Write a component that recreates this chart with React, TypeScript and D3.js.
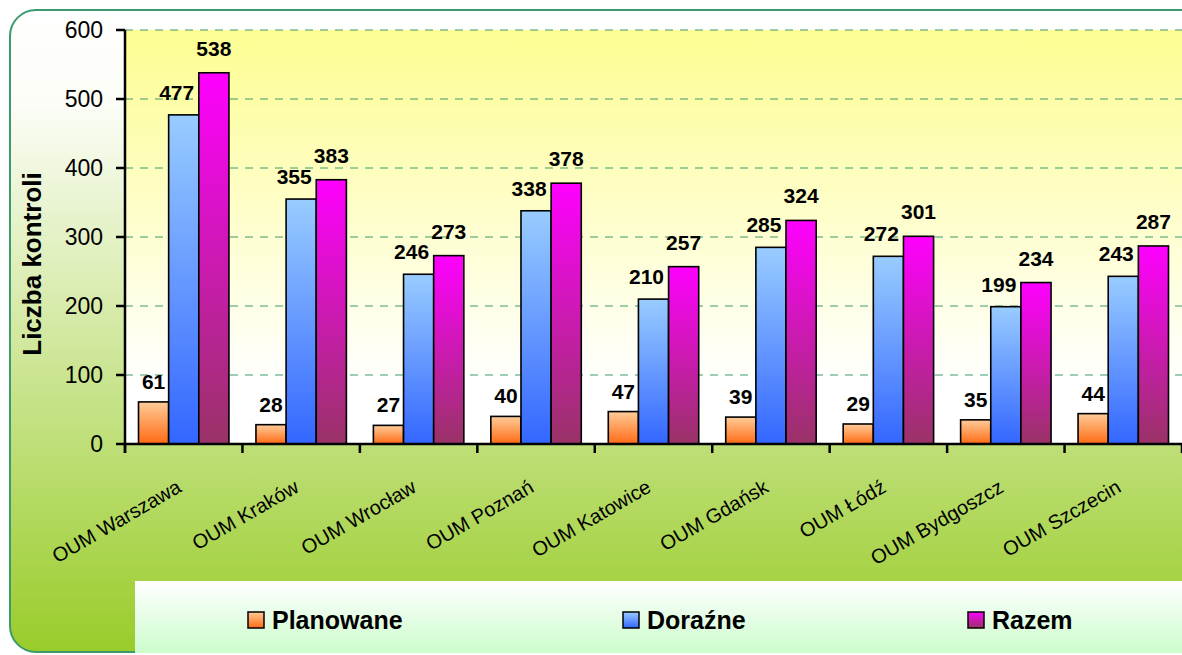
import {useEffect, useRef} from 'react';
import * as d3 from 'd3';

const categories = ['OUM Warszawa', 'OUM Kraków', 'OUM Wrocław', 'OUM Poznań', 'OUM Katowice', 'OUM Gdańsk', 'OUM Łódź', 'OUM Bydgoszcz', 'OUM Szczecin'];
const seriesNames = ['Planowane', 'Doraźne', 'Razem'];
const planowane = [61, 28, 27, 40, 47, 39, 29, 35, 44];
const dorazne = [477, 355, 246, 338, 210, 285, 272, 199, 243];
const razem = [538, 383, 273, 378, 257, 324, 301, 234, 287];
const yTicks = [0, 100, 200, 300, 400, 500, 600];
const yTitle = 'Liczba kontroli';

const W = 1182;
const H = 655;
const FONT = '"Liberation Sans", Arial, sans-serif';

export default function App() {
    const svgRef = useRef<SVGSVGElement>(null);

    useEffect(() => {
        const svg = d3.select(svgRef.current);
        svg.selectAll('*').remove();

        const plot = {left: 125, right: 1182, top: 30, bottom: 444};
        const values = [planowane, dorazne, razem];
        const grads = [
            ['#ffcc99', '#ff6a14'],
            ['#99ccff', '#3366ff'],
            ['#ff00ff', '#993366'],
        ];

        const defs = svg.append('defs');
        const vgrad = (id, stops) => {
            const g = defs.append('linearGradient').attr('id', id)
                .attr('x1', 0).attr('y1', 0).attr('x2', 0).attr('y2', 1);
            stops.forEach(([o, c]) => g.append('stop').attr('offset', o).attr('stop-color', c));
        };
        vgrad('outerBg', [[0, '#ffffff'], [0.15, '#fbfdf6'], [1, '#99cc2a']]);
        vgrad('plotBg', [[0, '#fdfd92'], [0.85, '#ffffff'], [1, '#ffffff']]);
        vgrad('legendBg', [[0, '#ffffff'], [1, '#ccfccc']]);
        grads.forEach((g, i) => vgrad('bar' + i, [[0, g[0]], [1, g[1]]]));

        // Outer frame
        svg.append('rect')
            .attr('x', 10).attr('y', 10)
            .attr('width', 1200).attr('height', 642)
            .attr('rx', 26)
            .attr('fill', 'url(#outerBg)')
            .attr('stroke', '#3d9a6c')
            .attr('stroke-width', 2);

        // Plot background
        svg.append('rect')
            .attr('x', plot.left).attr('y', plot.top)
            .attr('width', plot.right - plot.left).attr('height', plot.bottom - plot.top)
            .attr('fill', 'url(#plotBg)');

        const x0 = d3.scaleBand()
            .domain(categories)
            .range([plot.left, plot.right])
            .paddingInner(0.23)
            .paddingOuter(0.115);
        const x1 = d3.scaleBand()
            .domain(seriesNames)
            .range([0, x0.bandwidth()]);
        const y = d3.scaleLinear()
            .domain([0, 600])
            .range([plot.bottom, plot.top]);

        // Gridlines
        svg.append('g').selectAll('line')
            .data(yTicks.filter(t => t > 0))
            .join('line')
            .attr('x1', plot.left).attr('x2', plot.right)
            .attr('y1', d => y(d)).attr('y2', d => y(d))
            .attr('stroke', '#3d9a6c')
            .attr('stroke-width', 1)
            .attr('stroke-dasharray', '8,7');

        // Bars
        seriesNames.forEach((s, si) => {
            svg.append('g').selectAll('rect')
                .data(values[si])
                .join('rect')
                .attr('x', (d, i) => x0(categories[i]) + x1(s))
                .attr('y', d => y(d))
                .attr('width', x1.bandwidth())
                .attr('height', d => y(0) - y(d))
                .attr('fill', `url(#bar${si})`)
                .attr('stroke', '#000')
                .attr('stroke-width', 1.6);
        });

        // Value labels
        const labelOffset = [{dx: 0, dy: -13}, {dx: -7, dy: -15}, {dx: 0, dy: -17}];
        seriesNames.forEach((s, si) => {
            svg.append('g').selectAll('text')
                .data(values[si])
                .join('text')
                .attr('x', (d, i) => x0(categories[i]) + x1(s) + x1.bandwidth() / 2 + labelOffset[si].dx)
                .attr('y', d => y(d) + labelOffset[si].dy)
                .attr('text-anchor', 'middle')
                .style('font', `bold 21px ${FONT}`)
                .attr('fill', '#000')
                .text(d => d);
        });

        // Y axis
        svg.append('line')
            .attr('x1', plot.left).attr('x2', plot.left)
            .attr('y1', plot.top).attr('y2', plot.bottom + 9)
            .attr('stroke', '#000').attr('stroke-width', 2.5);
        svg.append('g').selectAll('line')
            .data(yTicks)
            .join('line')
            .attr('x1', plot.left - 9).attr('x2', plot.left)
            .attr('y1', d => y(d)).attr('y2', d => y(d))
            .attr('stroke', '#000').attr('stroke-width', 2.5);
        svg.append('g').selectAll('text')
            .data(yTicks)
            .join('text')
            .attr('x', 103)
            .attr('y', d => y(d))
            .attr('dy', '0.36em')
            .attr('text-anchor', 'end')
            .style('font', `23px ${FONT}`)
            .text(d => d);

        svg.append('text')
            .attr('transform', `translate(41,264) rotate(-90)`)
            .attr('text-anchor', 'middle')
            .style('font', `bold 26px ${FONT}`)
            .text(yTitle);

        // X axis
        const step = x0.step();
        const bounds = d3.range(categories.length + 1).map(i => plot.left + i * step);
        svg.append('line')
            .attr('x1', plot.left).attr('x2', plot.right)
            .attr('y1', plot.bottom).attr('y2', plot.bottom)
            .attr('stroke', '#000').attr('stroke-width', 2.5);
        svg.append('g').selectAll('line')
            .data(bounds)
            .join('line')
            .attr('x1', d => d).attr('x2', d => d)
            .attr('y1', plot.bottom).attr('y2', plot.bottom + 9)
            .attr('stroke', '#000').attr('stroke-width', 2.5);
        svg.append('g').selectAll('text')
            .data(categories)
            .join('text')
            .attr('transform', d => `translate(${x0(d) + x0.bandwidth() / 2 - 1},491) rotate(-30)`)
            .attr('text-anchor', 'end')
            .style('font', `20px ${FONT}`)
            .text(d => d);

        // Legend
        svg.append('rect')
            .attr('x', 135).attr('y', 581)
            .attr('width', 1060).attr('height', 72)
            .attr('fill', 'url(#legendBg)');
        const legendX = [248, 623, 968];
        const legend = svg.append('g').selectAll('g')
            .data(seriesNames)
            .join('g')
            .attr('transform', (d, i) => `translate(${legendX[i]},612)`);
        legend.append('rect')
            .attr('width', 16).attr('height', 16)
            .attr('fill', (d, i) => `url(#bar${i})`)
            .attr('stroke', '#000').attr('stroke-width', 1.5);
        legend.append('text')
            .attr('x', 24).attr('y', 17)
            .style('font', `bold 25px ${FONT}`)
            .text(d => d);
    }, []);

    return <svg ref={svgRef} width={W} height={H}
                style={{position: 'absolute', left: 0, top: 0, display: 'block'}}/>;
}
